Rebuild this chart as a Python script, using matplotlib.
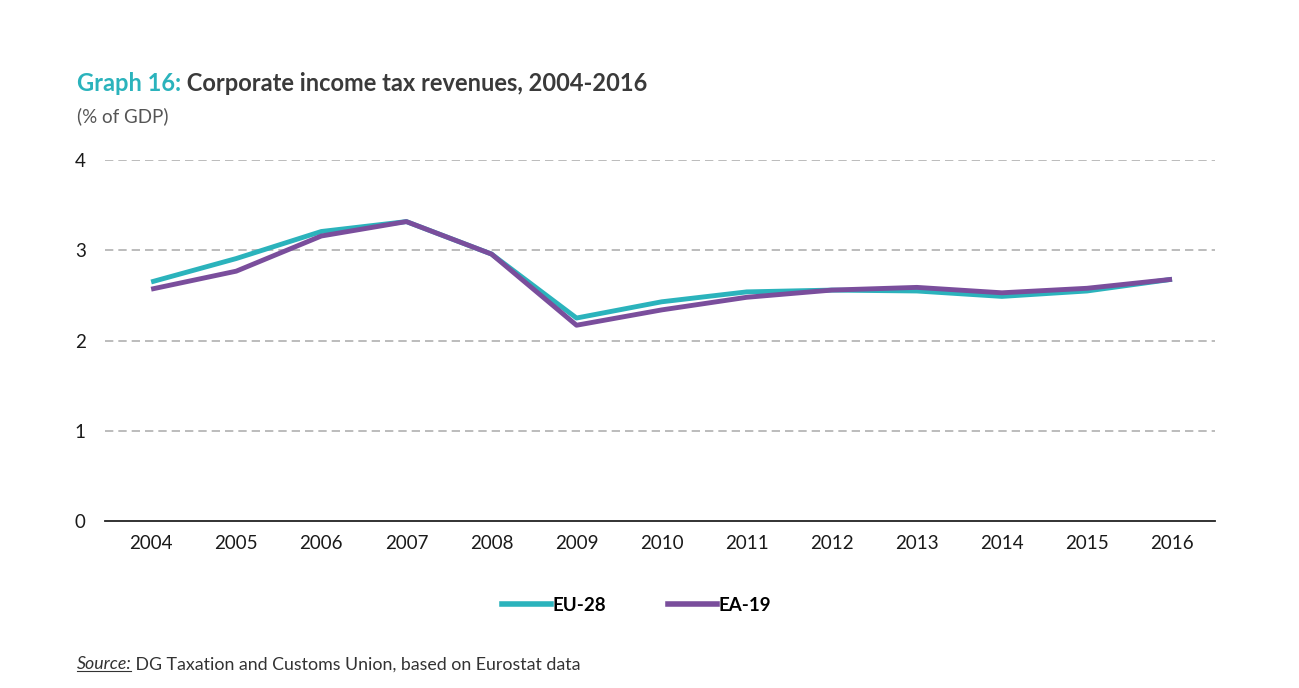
import matplotlib.pyplot as plt
from matplotlib.lines import Line2D

years = list(range(2004, 2017))
eu28 = [2.65, 2.91, 3.21, 3.32, 2.96, 2.25, 2.43, 2.54, 2.56, 2.55, 2.49, 2.55, 2.68]
ea19 = [2.57, 2.77, 3.16, 3.32, 2.96, 2.17, 2.34, 2.48, 2.56, 2.59, 2.53, 2.58, 2.68]
yticks = [0, 1, 2, 3, 4]

teal = '#2BB3BC'
purple = '#7A4E9C'
dark = '#333333'

plt.rcParams['font.family'] = ['Lato', 'DejaVu Sans']

fig = plt.figure(figsize=(12.99, 6.88), dpi=100)
ax = fig.add_axes([0.081, 0.243, 0.854, 0.524])

ax.plot(years, eu28, color=teal, lw=3.5, label='EU-28', solid_capstyle='butt')
ax.plot(years, ea19, color=purple, lw=3.5, label='EA-19', solid_capstyle='butt')

ax.set_xlim(2003.46, 2016.5)
ax.set_ylim(0, 4)
ax.set_xticks(years)
ax.set_yticks(yticks)
ax.tick_params(axis='both', length=0, labelsize=13.5, colors='#1a1a1a', pad=10)
ax.tick_params(axis='y', pad=14)
for y in yticks[1:]:
    ax.axhline(y, color='#b0b0b0', lw=1.2, ls=(0, (5, 3)), zorder=0)
for s in ['top', 'right', 'left']:
    ax.spines[s].set_visible(False)
ax.spines['bottom'].set_color('#222222')
ax.spines['bottom'].set_linewidth(1.3)

# legend
handles = [Line2D([], [], color=teal, lw=4), Line2D([], [], color=purple, lw=4)]
leg = fig.legend(handles, ['EU-28', 'EA-19'], loc='center', bbox_to_anchor=(0.49, 0.12),
                 ncol=2, frameon=False, handlelength=2.6, handletextpad=0.1,
                 columnspacing=3.3, prop={'size': 13.5, 'weight': 'bold'})

# title
t1 = fig.text(0.059, 0.868, 'Graph 16:', color=teal, fontsize=17, fontweight='bold')
ax.annotate(' Corporate income tax revenues, 2004-2016', xy=(1, 0), xycoords=t1,
            va='bottom', ha='left', color='#3a3a3a', fontsize=17, fontweight='bold',
            annotation_clip=False)
fig.text(0.059, 0.822, '(% of GDP)', color='#555555', fontsize=13.5)

# source
s1 = fig.text(0.059, 0.027, 'Source:', color=dark, fontsize=12.8, style='italic')
ax.annotate(' DG Taxation and Customs Union, based on Eurostat data', xy=(1, 0),
            xycoords=s1, va='bottom', ha='left', color=dark, fontsize=12.8,
            annotation_clip=False)
fig.add_artist(Line2D([0.059, 0.101], [0.024, 0.024], color=dark, lw=0.8))

fig.savefig('out.png', dpi=100)
